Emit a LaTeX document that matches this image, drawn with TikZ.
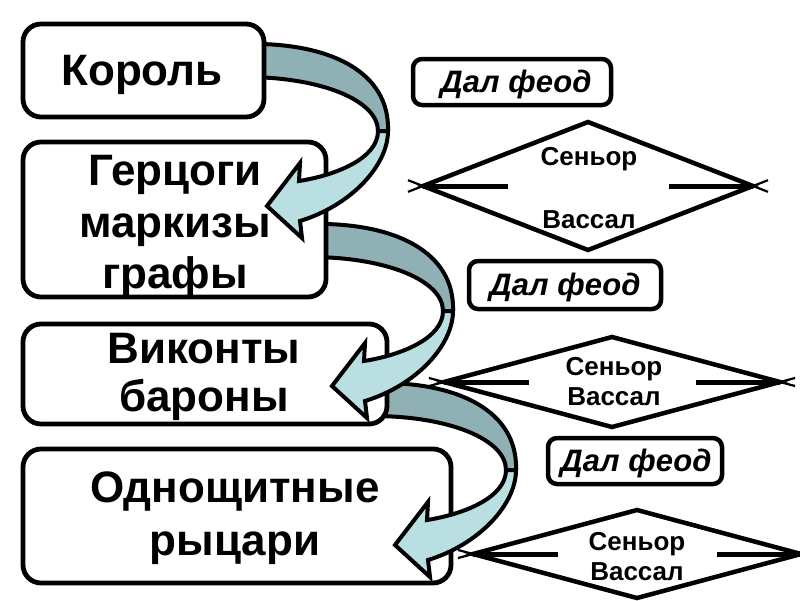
\documentclass[tikz,border=0pt]{standalone}
\usepackage{fontspec}
\setmainfont{Liberation Sans}
\definecolor{bandDark}{HTML}{8FB0B4}
\definecolor{bandLight}{HTML}{BADFE3}
\tikzset{
  bigbox/.style={draw, line width=4.8pt, rounded corners=18pt, fill=white, inner sep=0pt},
  feodbox/.style={draw, line width=4.5pt, rounded corners=9pt, fill=white, inner sep=0pt},
  bigtxt/.style={anchor=base, font=\bfseries\fontsize{44}{50}\selectfont, inner sep=0pt},
  feodtxt/.style={anchor=base, font=\bfseries\itshape\fontsize{31}{34}\selectfont, inner sep=0pt},
  dtxt/.style={anchor=base, font=\bfseries\fontsize{26}{30}\selectfont, inner sep=0pt},
  darkband/.style={fill=bandDark, draw, line width=4pt, line join=round},
  lightband/.style={fill=bandLight, draw, line width=4pt, line join=miter},
  dedge/.style={line width=4.5pt, line join=miter},
  dtail/.style={line width=2.2pt},
  ddash/.style={line width=5pt},
}
% curved two-tone arrow, shifted by (#1,#2)
\newcommand\feodarrow[2]{%
  \begin{scope}[shift={(#1,#2)}]
    \draw[darkband] (245,44) .. controls (330,42) and (390,72) .. (388,131)
      -- (378,131) .. controls (378,100) and (320,77) .. (245,77) -- cycle;
    \draw[lightband] (388,131) .. controls (388,165) and (352,205) .. (300,221)
      -- (302,238) -- (267,206) -- (300,163) -- (299,181)
      .. controls (337,175) and (378,158) .. (378,131) -- cycle;
  \end{scope}}
% seigneur/vassal diamond: centre (#1,#2), half width #3, half height #4
\newcommand\svdiamond[4]{%
  \draw[dedge] ({#1-#3},#2) -- (#1,{#2-#4}) -- ({#1+#3},#2) -- (#1,{#2+#4}) -- cycle;
  \draw[dtail] ({#1-#3},#2) -- ({#1-#3-15},{#2+15*#4/#3});
  \draw[dtail] ({#1-#3},#2) -- ({#1-#3-15},{#2-15*#4/#3});
  \draw[dtail] ({#1+#3},#2) -- ({#1+#3+15},{#2+15*#4/#3});
  \draw[dtail] ({#1+#3},#2) -- ({#1+#3+15},{#2-15*#4/#3});
  \draw[ddash] ({#1-#3},#2) -- ({#1-#3+85},#2);
  \draw[ddash] ({#1+#3-84},#2) -- ({#1+#3},#2);}
\begin{document}
\begin{tikzpicture}[x=1pt,y=-1pt]
\useasboundingbox[fill=white] (0,0) rectangle (800,600);

% box 4
\node[bigbox, minimum width=428pt, minimum height=134pt] (b4) at (237,516) {};
\node[bigtxt] (t4a) at (235,502) {Однощитные};
\node[bigtxt] (t4b) at (235,555) {рыцари};
\feodarrow{128}{339}
% box 3
\node[bigbox, minimum width=364pt, minimum height=100pt] (b3) at (205,374) {};
\node[bigtxt] (t3a) at (204,363) {Виконты};
\node[bigtxt] (t3b) at (204,411) {бароны};
\feodarrow{65}{180}
% box 2
\node[bigbox, minimum width=303pt, minimum height=155pt] (b2) at (174.5,219.5) {};
\node[bigtxt] (t2a) at (175,185) {Герцоги};
\node[bigtxt] (t2b) at (175,237) {маркизы};
\node[bigtxt] (t2c) at (175,288) {графы};
\feodarrow{0}{0}
% box 1
\node[bigbox, minimum width=241pt, minimum height=93pt] (b1) at (143.5,70.5) {};
\node[bigtxt] (t1) at (142,85) {Король};

% "Дал феод" boxes
\node[feodbox, minimum width=198pt, minimum height=46pt] (fa) at (512,82) {};
\node[feodtxt] (fat) at (516,92) {Дал феод};
\node[feodbox, minimum width=192pt, minimum height=48pt] (fb) at (565,285) {};
\node[feodtxt] (fbt) at (565,295) {Дал феод};
\node[feodbox, minimum width=174pt, minimum height=46pt] (fc) at (635,461) {};
\node[feodtxt] (fct) at (636,471) {Дал феод};

% diamonds
\svdiamond{588}{186}{165}{64}
\node[dtxt] (s1) at (589,165) {Сеньор};
\node[dtxt] (v1) at (589,228) {Вассал};
\svdiamond{612}{382}{168}{45}
\node[dtxt] (s2) at (614,375) {Сеньор};
\node[dtxt] (v2) at (614,405) {Вассал};
\svdiamond{637}{554}{164}{44}
\node[dtxt] (s3) at (637,550) {Сеньор};
\node[dtxt] (v3) at (637,580) {Вассал};
\end{tikzpicture}
\end{document}
